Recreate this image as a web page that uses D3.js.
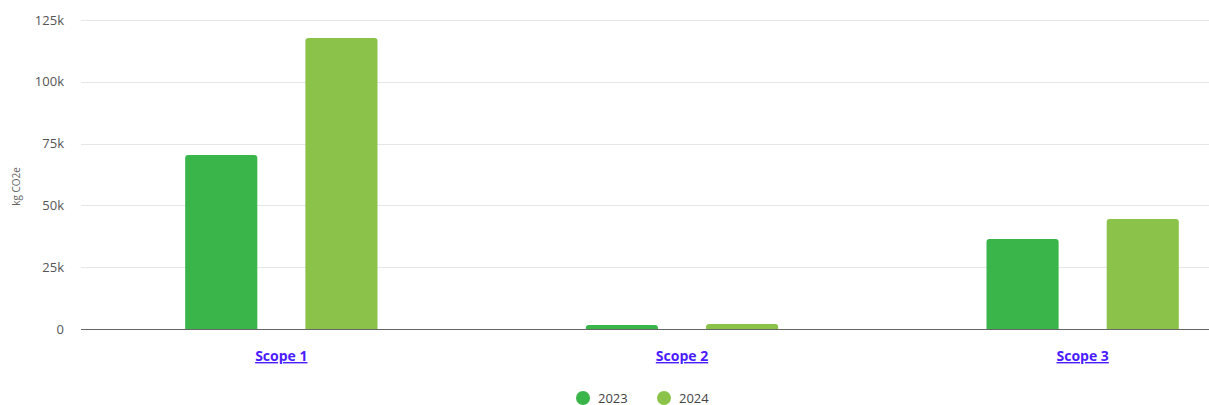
<!DOCTYPE html>
<html>
  <head>
    <meta charset="utf-8">
    <script type="text/javascript" src="https://cdn.jsdelivr.net/npm/d3@7"></script>
    <style>
      body { margin: 0; background: #fff; }
      text { font-family: "Open Sans", "Noto Sans", sans-serif; }
    </style>
  </head>
  <body>
    <script type="text/javascript">

var categories = ["Scope 1", "Scope 2", "Scope 3"];
var years = ["2023", "2024"];
var values2023 = [70400, 1600, 36400];
var values2024 = [117700, 2000, 44500];
var yTicks = [0, 25000, 50000, 75000, 100000, 125000];
var colors = ["#39b54a", "#8bc34a"];

var series = [values2023, values2024];

var w = 1209;
var h = 405;
var plotLeft = 81, plotTop = 20, plotBottom = 329;

var svg =
  d3.select("body")
    .append("svg")
    .attr("width", w)
    .attr("height", h);

var y = d3.scaleLinear()
    .domain([0, 125000])
    .range([plotBottom, plotTop]);

// the plot runs past the right edge of the window, as in the picture
var x0 = d3.scaleBand()
    .domain(categories)
    .range([plotLeft, 1283])
    .paddingInner(0.52)
    .paddingOuter(0.26);

var x1 = d3.scaleBand()
    .domain(years)
    .range([0, x0.bandwidth()])
    .paddingInner(0.4)
    .paddingOuter(0);

// grid lines
svg.append("g")
  .selectAll("line")
  .data(yTicks.slice(1))
  .enter()
  .append("line")
  .attr("x1", plotLeft)
  .attr("x2", w)
  .attr("y1", function(d) { return Math.round(y(d)) + 0.5; })
  .attr("y2", function(d) { return Math.round(y(d)) + 0.5; })
  .style("stroke", "#e6e6e6")
  .style("stroke-width", 1);

// y axis labels
var yAxis = d3.axisLeft(y)
    .tickValues(yTicks)
    .tickSize(0)
    .tickPadding(0)
    .tickFormat(function(d) { return d === 0 ? "0" : (d / 1000) + "k"; });

var ya = svg.append("g")
  .attr("transform", "translate(64,0)")
  .call(yAxis);
ya.select(".domain").remove();
ya.selectAll("text")
  .style("font-size", "13px")
  .style("fill", "#555");

svg.append("text")
  .attr("transform", "translate(20," + ((plotTop + plotBottom) / 2 + 12) + ") rotate(-90)")
  .attr("text-anchor", "middle")
  .style("font-size", "10px")
  .style("fill", "#666")
  .text("kg CO2e");

// bars with rounded tops
function barPath(x, yTop, bw, yBase, r) {
  r = Math.min(r, (yBase - yTop));
  return "M" + x + "," + yBase +
    "V" + (yTop + r) +
    "Q" + x + "," + yTop + " " + (x + r) + "," + yTop +
    "H" + (x + bw - r) +
    "Q" + (x + bw) + "," + yTop + " " + (x + bw) + "," + (yTop + r) +
    "V" + yBase + "Z";
}

var groups = svg.append("g")
  .selectAll("g")
  .data(categories)
  .enter()
  .append("g")
  .attr("transform", function(d) { return "translate(" + x0(d) + ",0)"; });

groups.selectAll("path")
  .data(function(d, i) {
    return years.map(function(yr, j) { return { year: yr, value: series[j][i], color: colors[j] }; });
  })
  .enter()
  .append("path")
  .attr("d", function(d) {
    return barPath(x1(d.year), y(d.value), x1.bandwidth(), y(0), 3);
  })
  .style("fill", function(d) { return d.color; });

// baseline
svg.append("line")
  .attr("x1", plotLeft)
  .attr("x2", w)
  .attr("y1", y(0) + 0.5)
  .attr("y2", y(0) + 0.5)
  .style("stroke", "#666")
  .style("stroke-width", 1);

// category labels
svg.append("g")
  .selectAll("text")
  .data(categories)
  .enter()
  .append("text")
  .attr("x", function(d) { return x0(d) + x0.bandwidth() / 2; })
  .attr("y", 361)
  .attr("text-anchor", "middle")
  .style("font-size", "14px")
  .style("font-weight", "bold")
  .style("fill", "#4b1cff")
  .style("text-decoration", "underline")
  .text(function(d) { return d; });

// legend
var legendX = [583, 664];
var legend = svg.append("g")
  .selectAll("g")
  .data(years)
  .enter()
  .append("g")
  .attr("transform", function(d, i) { return "translate(" + legendX[i] + ",398)"; });

legend.append("circle")
  .attr("r", 7)
  .style("fill", function(d, i) { return colors[i]; });

legend.append("text")
  .attr("x", 15)
  .attr("y", 5)
  .style("font-size", "13px")
  .style("fill", "#444")
  .text(function(d) { return d; });

    </script>
  </body>
</html>
